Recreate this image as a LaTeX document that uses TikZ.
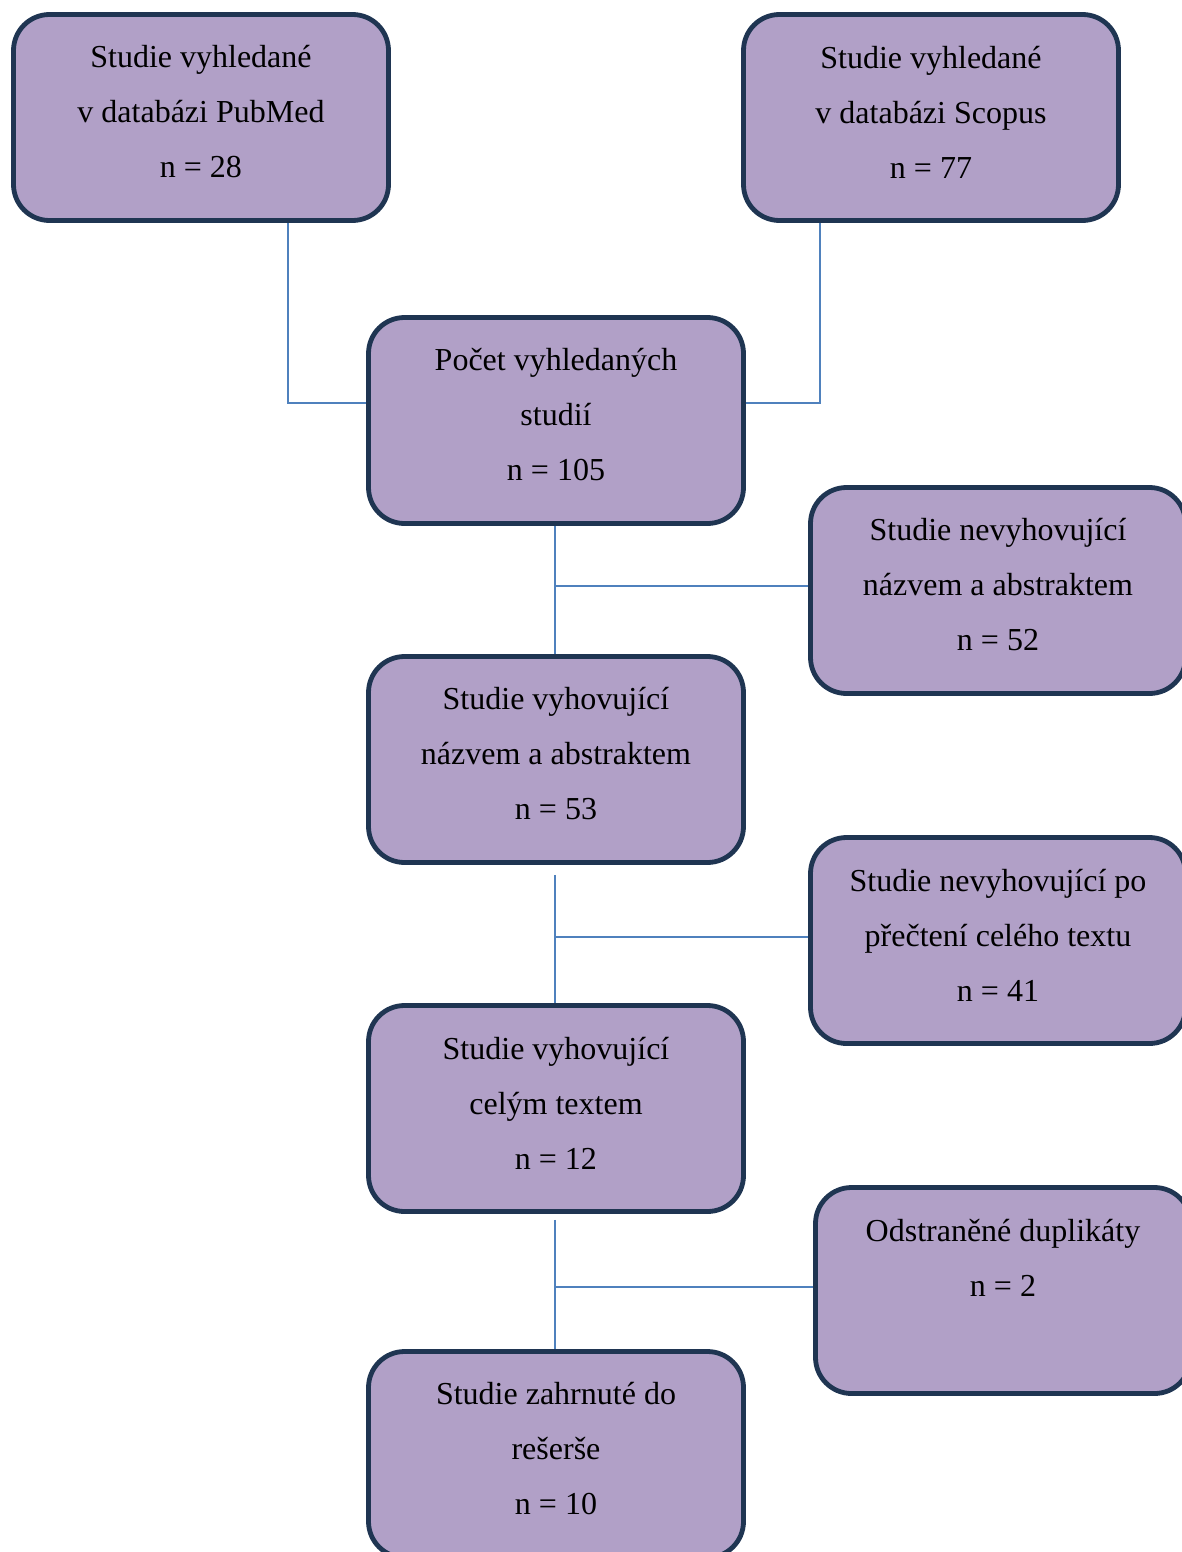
\documentclass[tikz,border=0pt]{standalone}
\usepackage{fontspec}
\setmainfont{Liberation Serif}
\usetikzlibrary{calc}
\definecolor{boxfill}{HTML}{B1A0C7}
\definecolor{boxline}{HTML}{1F3552}
\definecolor{linkcol}{HTML}{4F81BD}
\begin{document}
\begin{tikzpicture}[x=1pt,y=-1pt,
  flowbox/.style={draw=boxline,line width=4.8pt,fill=boxfill,rounded corners=36pt,
    minimum width=375pt,minimum height=206pt,inner sep=0pt},
  boxtext/.style={align=center,font=\fontsize{32}{55}\selectfont,inner sep=0pt,text=black},
  link/.style={draw=linkcol,line width=1.8pt}]
\useasboundingbox (0,0) rectangle (1181,1552);

% boxes
\node[flowbox] (b1) at (201,117.5) {};
\node[flowbox] (b2) at (931,117.5) {};
\node[flowbox] (b3) at (556,420.5) {};
\node[flowbox] (b4) at (998,590.5) {};
\node[flowbox] (b5) at (556,759.5) {};
\node[flowbox] (b6) at (998,940.5) {};
\node[flowbox] (b7) at (556,1108.5) {};
\node[flowbox] (b8) at (1003,1290.5) {};
\node[flowbox] (b9) at (556,1454.5) {};

% texts
\node[boxtext] (t1) at ($(b1.center)+(0,-5.5)$) {Studie vyhledané\\v databázi PubMed\\n = 28};
\node[boxtext] (t2) at ($(b2.center)+(0,-5.5)$) {Studie vyhledané\\v databázi Scopus\\n = 77};
\node[boxtext] (t3) at ($(b3.center)+(0,-5.5)$) {Počet vyhledaných\\studií\\n = 105};
\node[boxtext] (t4) at ($(b4.center)+(0,-5.5)$) {Studie nevyhovující\\názvem a abstraktem\\n = 52};
\node[boxtext] (t5) at ($(b5.center)+(0,-5.5)$) {Studie vyhovující\\názvem a abstraktem\\n = 53};
\node[boxtext] (t6) at ($(b6.center)+(0,-5.5)$) {Studie nevyhovující po\\přečtení celého textu\\n = 41};
\node[boxtext] (t7) at ($(b7.center)+(0,-5.5)$) {Studie vyhovující\\celým textem\\n = 12};
\node[boxtext] (t8) at ($(b8.center)+(0,-5.5)$) {Odstraněné duplikáty\\n = 2\\\mbox{}};
\node[boxtext] (t9) at ($(b9.center)+(0,-5.5)$) {Studie zahrnuté do\\rešerše\\n = 10};

% connectors
\coordinate (j1) at ($(b1.south)+(87,0)$);
\coordinate (j2) at ($(b2.south)+(-111,0)$);
\draw[link] (j1) |- ($(b3.west)+(0,-17.5)$);
\draw[link] (j2) |- ($(b3.east)+(0,-17.5)$);

\coordinate (v1) at ($(b3.south)+(-1,0)$);
\draw[link] (v1) -- (v1 |- b5.north);
\draw[link] ($(b4.west)+(0,-4.5)$) -- ($(b4.west -| v1)+(0,-4.5)$);

\coordinate (v2) at ($(b5.south)+(-1,10)$);
\draw[link] (v2) -- (v2 |- b7.north);
\draw[link] ($(b6.west)+(0,-3.5)$) -- ($(b6.west -| v1)+(0,-3.5)$);

\coordinate (v3) at ($(b7.south)+(-1,6)$);
\draw[link] (v3) -- (v3 |- b9.north);
\draw[link] ($(b8.west)+(0,-3.5)$) -- ($(b8.west -| v1)+(0,-3.5)$);
\end{tikzpicture}
\end{document}
